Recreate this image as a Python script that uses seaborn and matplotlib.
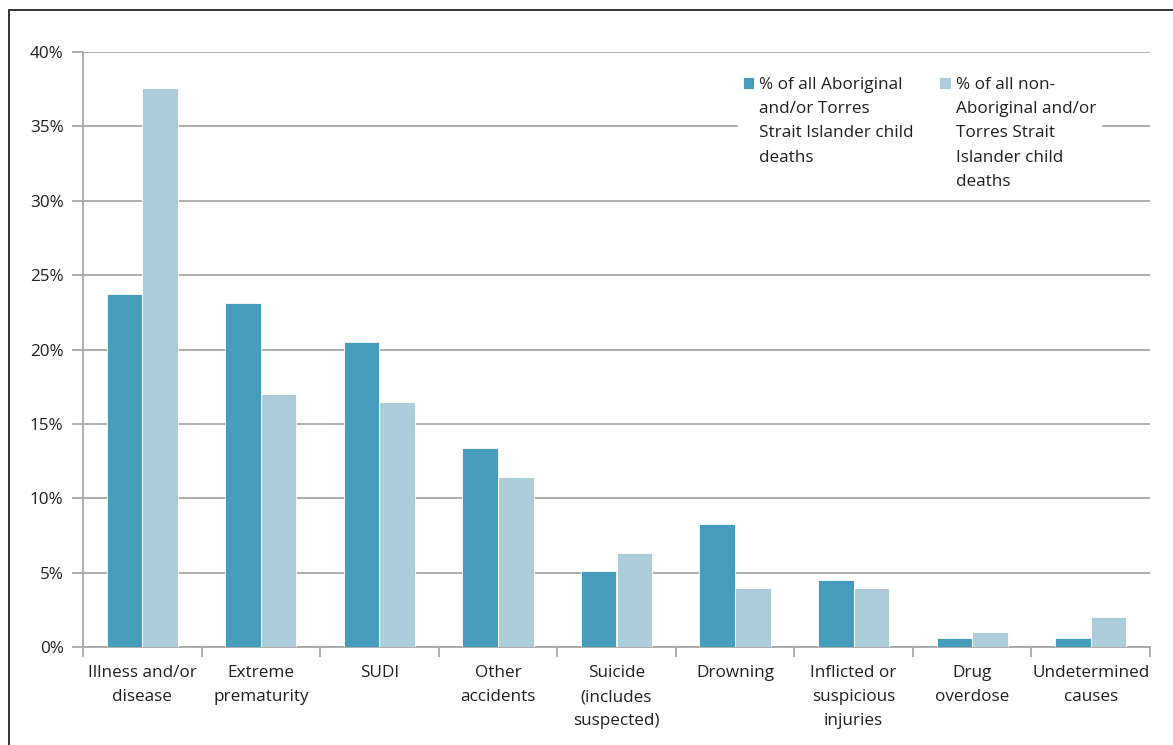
import matplotlib
matplotlib.use("Agg")
import matplotlib.pyplot as plt
import matplotlib.lines as mlines
from matplotlib.ticker import FuncFormatter, MultipleLocator, FixedLocator
import seaborn as sns
import pandas as pd

categories = [
    "Illness and/or\ndisease",
    "Extreme\nprematurity",
    "SUDI",
    "Other\naccidents",
    "Suicide\n(includes\nsuspected)",
    "Drowning",
    "Inflicted or\nsuspicious\ninjuries",
    "Drug\noverdose",
    "Undetermined\ncauses",
]
aboriginal = [23.7, 23.1, 20.5, 13.4, 5.1, 8.3, 4.5, 0.6, 0.6]
non_aboriginal = [37.6, 17.0, 16.5, 11.4, 6.3, 4.0, 4.0, 1.0, 2.0]

series_names = [
    "% of all Aboriginal\nand/or Torres\nStrait Islander child\ndeaths",
    "% of all non-\nAboriginal and/or\nTorres Strait\nIslander child\ndeaths",
]
colors = ["#459dbb", "#aecddb"]

df = pd.DataFrame({
    "cause": categories * 2,
    "pct": aboriginal + non_aboriginal,
    "series": [series_names[0]] * len(categories) + [series_names[1]] * len(categories),
})

sns.set_style("white")
plt.rcParams["font.family"] = ["Open Sans", "DejaVu Sans"]
text_color = "#231f20"
grid_color = "#a8a8a8"
fs = 12.3

fig = plt.figure(figsize=(11.73, 7.45), dpi=100)
ax = fig.add_axes([83 / 1173, 1 - 647 / 745, (1150 - 83) / 1173, (647 - 52) / 745])

sns.barplot(data=df, x="cause", y="pct", hue="series", palette=colors,
            width=0.6, saturation=1, ax=ax, zorder=3,
            edgecolor="white", linewidth=0.6)

ax.set_ylim(0, 40)
ax.set_xlim(-0.5, len(categories) - 0.5)
ax.yaxis.set_major_locator(MultipleLocator(5))
ax.yaxis.set_major_formatter(FuncFormatter(lambda v, p: f"{v:.0f}%"))
ax.grid(axis="y", color=grid_color, linewidth=1.3, zorder=0)
ax.set_axisbelow(True)
ax.set_xlabel("")
ax.set_ylabel("")

for side in ["top", "right"]:
    ax.spines[side].set_visible(False)
for side in ["left", "bottom"]:
    ax.spines[side].set_color(grid_color)
    ax.spines[side].set_linewidth(1.3)

ax.tick_params(axis="y", which="major", left=True, length=8, width=1.3,
               color=grid_color, labelsize=fs, labelcolor=text_color, pad=6)
ax.tick_params(axis="x", which="major", length=0, labelsize=fs,
               labelcolor=text_color, pad=13)
ax.xaxis.set_minor_locator(FixedLocator([i - 0.5 for i in range(len(categories) + 1)]))
ax.tick_params(axis="x", which="minor", bottom=True, length=7, width=1.3,
               color=grid_color)
for lbl in ax.get_xticklabels():
    lbl.set_linespacing(1.68)
    lbl.set_verticalalignment("top")

leg = ax.legend(loc="upper left", bbox_to_anchor=((738 - 83) / 1067, (647 - 72) / 595),
                ncol=2, frameon=True, fancybox=False, framealpha=1,
                edgecolor="white", facecolor="white", fontsize=fs,
                handlelength=0.65, handleheight=0.65, handletextpad=0.3,
                columnspacing=1.5, borderpad=0.3, borderaxespad=0)
for t in leg.get_texts():
    t.set_color(text_color)
    t.set_linespacing(1.68)
leg._legend_handle_box.align = "top"
for col in leg._legend_handle_box.get_children():
    for item in col.get_children():
        item.align = "top"
leg.set_zorder(5)

# page border
fig.add_artist(mlines.Line2D([9 / 1173, 9 / 1173], [0, 1 - 10 / 745],
                             transform=fig.transFigure, color="#333333", lw=1.4))
fig.add_artist(mlines.Line2D([9 / 1173, 1], [1 - 10 / 745, 1 - 10 / 745],
                             transform=fig.transFigure, color="#333333", lw=1.4))

fig.savefig("out.png", dpi=100, facecolor="white")
